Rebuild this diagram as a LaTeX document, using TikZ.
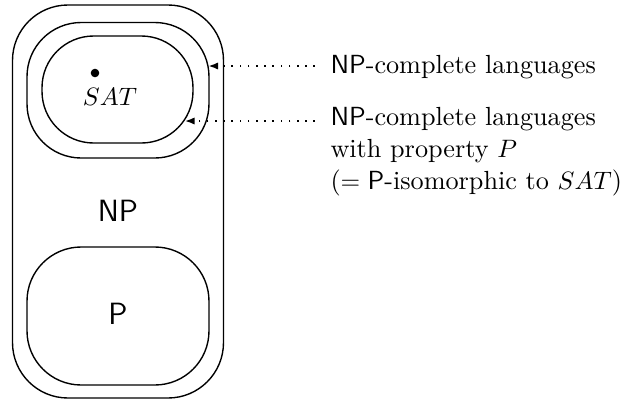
\documentclass[tikz,border=0pt]{standalone}
\usetikzlibrary{arrows.meta}
\begin{document}
\begin{tikzpicture}[x=0.397pt,y=-0.397pt,
  region/.style={line width=0.55pt},
  pointer/.style={line width=0.65pt,dash pattern=on 0.65pt off 2.6pt,
    -{Latex[length=3.8pt,width=2.9pt]}},
  setlabel/.style={font=\sffamily\fontsize{12.2}{14}\selectfont,inner sep=0pt},
  caption/.style={inner sep=0pt,font=\fontsize{10.4}{13}\selectfont}]
\useasboundingbox (0,0) rectangle (626,400);
% class NP
\draw[region,rounded corners=22pt] (12.5,5) rectangle (223.5,398);
% NP-complete languages
\draw[region,rounded corners=21.5pt] (27,22.5) rectangle (209,158);
% languages with property P
\draw[region,rounded corners=20.5pt] (42,36) rectangle (193,143);
% class P
\draw[region,rounded corners=21.5pt] (27,247) rectangle (209,385);
% SAT
\fill (95,73) circle (1.7pt);
\node[inner sep=0pt,anchor=base,font=\fontsize{10.4}{13}\selectfont] (sat) at (110,105) {$SAT$};
\node[setlabel,anchor=base] (np) at (118,221) {NP};
\node[setlabel,anchor=base] (p) at (118,324) {P};
% captions
\node[caption,anchor=base west] (c1) at (330,73) {\textsf{NP}-complete languages};
\node[caption,anchor=base west] (c2) at (330,125) {\textsf{NP}-complete languages};
\node[caption,anchor=base west] (c3) at (330,157) {with property $P$};
\node[caption,anchor=base west] (c4) at (330,189) {($=$\hspace{0.28em}\textsf{P}-isomorphic to $SAT$)};
% ends of the pointers on the rings
\coordinate (e1) at (208.5,66);
\coordinate (e2) at (185,121);
\draw[pointer] ([xshift=-6pt]c1.west |- e1) -- (e1);
\draw[pointer] ([xshift=-6pt]c2.west |- e2) -- (e2);
\end{tikzpicture}
\end{document}
